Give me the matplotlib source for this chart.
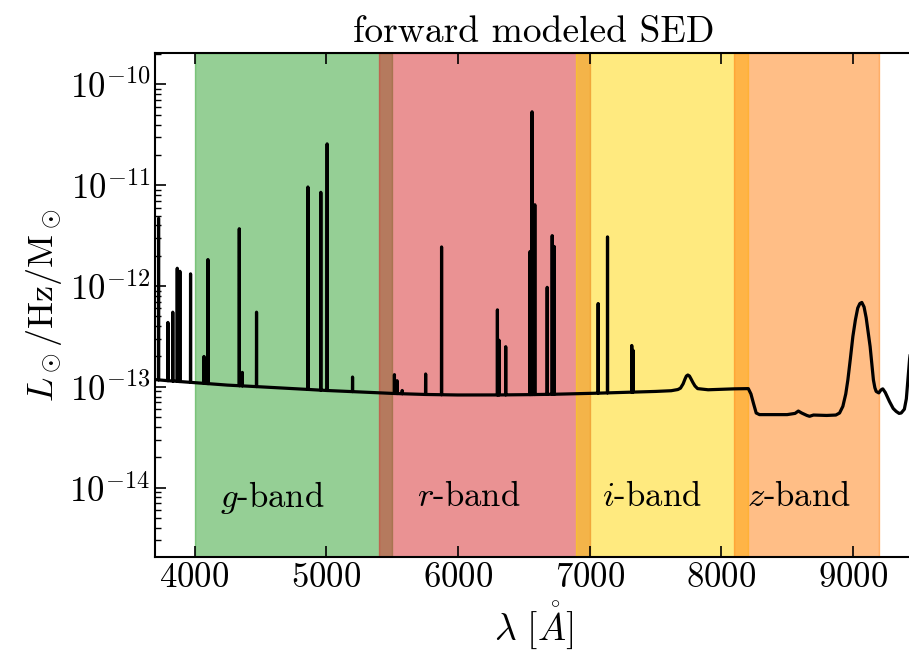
import numpy as np
import matplotlib
matplotlib.use("Agg")
import matplotlib.pyplot as plt
from matplotlib.ticker import LogLocator, NullFormatter, FixedLocator

plt.rcParams["font.family"] = "serif"
plt.rcParams["font.serif"] = ["cmr10"]
plt.rcParams["mathtext.fontset"] = "cm"
plt.rcParams["axes.formatter.use_mathtext"] = True
plt.rcParams["axes.unicode_minus"] = False

# smooth stellar + nebular continuum (wavelength in Angstrom, L_sun/Hz/M_sun)
cont_wave = [3700, 3800, 4000, 4250, 4500, 4750, 5000, 5250, 5500, 5750,
             6000, 6250, 6500, 6750, 7000, 7250, 7500, 7620, 7670, 7690,
             7710, 7725, 7735, 7746, 7758, 7770, 7785, 7800, 7820, 7900,
             8000, 8100, 8205, 8225, 8245, 8265, 8290, 8400, 8500, 8560,
             8585, 8610, 8650, 8670, 8700, 8800, 8870, 8898, 8923, 8945,
             8961, 8980, 8999, 9018, 9036, 9052, 9067, 9084, 9100, 9115,
             9130, 9145, 9155, 9166, 9176, 9196, 9212, 9226, 9245, 9277,
             9305, 9328, 9350, 9366, 9390, 9405, 9415, 9430, 9450]
cont_flux = [1.18e-13, 1.15e-13, 1.10e-13, 1.04e-13, 1.00e-13, 9.6e-14, 9.2e-14,
             8.9e-14, 8.6e-14, 8.4e-14, 8.3e-14, 8.3e-14, 8.35e-14, 8.45e-14,
             8.6e-14, 8.8e-14, 9.0e-14, 9.15e-14, 9.4e-14, 9.7e-14, 1.07e-13,
             1.2e-13, 1.28e-13, 1.31e-13, 1.28e-13, 1.2e-13, 1.1e-13, 1.02e-13,
             9.6e-14, 9.35e-14, 9.45e-14, 9.55e-14, 9.6e-14, 8.5e-14, 6.8e-14,
             5.5e-14, 5.3e-14, 5.3e-14, 5.3e-14, 5.45e-14, 5.75e-14, 5.5e-14,
             5.2e-14, 5.1e-14, 5.25e-14, 5.2e-14, 5.25e-14, 5.5e-14, 6.4e-14,
             8.5e-14, 1.17e-13, 1.9e-13, 3.16e-13, 4.6e-13, 6.05e-13, 6.7e-13,
             6.87e-13, 6.2e-13, 4.85e-13, 3.5e-13, 2.51e-13, 1.6e-13, 1.17e-13,
             9.8e-14, 9.0e-14, 8.7e-14, 9.3e-14, 9.55e-14, 8.8e-14, 7.15e-14,
             6.1e-14, 5.7e-14, 5.45e-14, 5.5e-14, 6.0e-14, 7.6e-14, 1.1e-13,
             1.9e-13, 3.0e-13]

# nebular emission lines: rest wavelength and peak luminosity
line_wave = [3727, 3798, 3835, 3869, 3889, 3970, 4072, 4102, 4340, 4363,
             4471, 4861, 4959, 5007, 5200, 5518, 5538, 5577, 5755, 5876,
             6300, 6312, 6363, 6548, 6563, 6584, 6678, 6716, 6731, 7065,
             7136, 7320, 7330]
line_peak = [4.7e-12, 4.35e-13, 5.5e-13, 1.5e-12, 1.4e-12, 1.32e-12, 2.0e-13,
             1.83e-12, 3.7e-12, 1.39e-13, 5.5e-13, 9.6e-12, 8.5e-12, 2.57e-11,
             1.25e-13, 1.32e-13, 1.15e-13, 9.2e-14, 1.34e-13, 2.44e-12,
             5.8e-13, 2.9e-13, 2.5e-13, 2.2e-12, 5.35e-11, 6.4e-12, 9.7e-13,
             3.16e-12, 2.47e-12, 6.7e-13, 3.07e-12, 2.57e-13, 2.3e-13]

# photometric bands
band_names = ["g", "r", "i", "z"]
band_lo = [4000, 5400, 6900, 8100]
band_hi = [5500, 7000, 8200, 9200]
band_colors = ["tab:green", "tab:red", "gold", "tab:orange"]
band_text_x = [4190, 5690, 7095, 8195]

# assemble the spectrum: continuum plus narrow spikes
cw = np.asarray(cont_wave, float)
cf = np.asarray(cont_flux, float)
lw_ = np.asarray(line_wave, float)
lp = np.asarray(line_peak, float)
base = np.interp(lw_, cw, cf)
wave = np.concatenate([cw, lw_ - 1.0, lw_, lw_ + 1.0])
flux = np.concatenate([cf, base, lp, base])
order = np.argsort(wave, kind="stable")
wave, flux = wave[order], flux[order]

fig = plt.figure(figsize=(9.09, 6.55), dpi=100)
ax = fig.add_axes([155 / 909, 1 - 557 / 655, 757 / 909, (557 - 53) / 655])

for lo, hi, c in zip(band_lo, band_hi, band_colors):
    ax.axvspan(lo, hi, color=c, alpha=0.5, zorder=0)

ax.plot(wave, flux, color="k", lw=2.3, zorder=3)

for name, x in zip(band_names, band_text_x):
    ax.text(x, 8.0e-15, f"${name}$-band", fontsize=25, ha="left", va="center")

ax.set_yscale("log")
ax.set_xlim(3700, 9448)
ax.set_ylim(2.05e-15, 2.05e-10)
ax.set_xticks([4000, 5000, 6000, 7000, 8000, 9000])
ax.yaxis.set_major_locator(FixedLocator([1e-14, 1e-13, 1e-12, 1e-11, 1e-10]))
ax.yaxis.set_minor_locator(LogLocator(base=10, subs=np.arange(2, 10)))
ax.yaxis.set_minor_formatter(NullFormatter())
ax.tick_params(axis="both", which="both", direction="in", top=True, right=False)
ax.tick_params(axis="both", which="major", length=8, width=1.2, labelsize=25)
ax.tick_params(axis="both", which="minor", length=4, width=1.0)
for s in ax.spines.values():
    s.set_linewidth(1.5)

ax.set_xlabel(r"$\lambda\ [\mathring{A}]$", fontsize=27, labelpad=4)
ax.set_ylabel(r"$L_\odot/{\rm Hz}/{\rm M}_\odot$", fontsize=26, labelpad=4)
ax.set_title("forward modeled SED", fontsize=27, pad=8)

fig.savefig("out.png", dpi=100)
